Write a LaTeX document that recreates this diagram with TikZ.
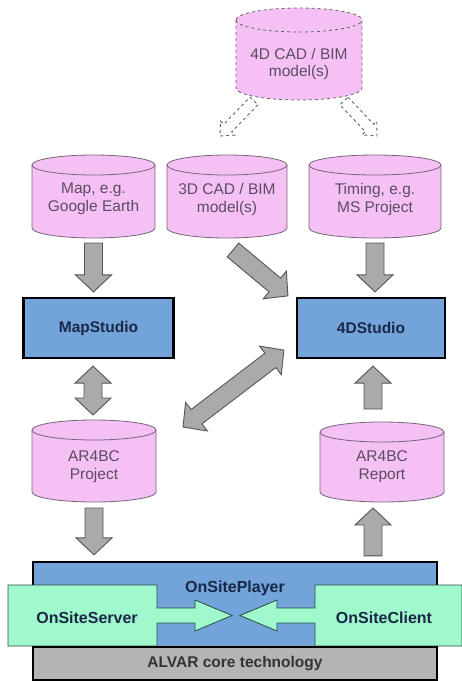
\documentclass[tikz,border=0pt]{standalone}
\usepackage{fontspec}
\setmainfont{Liberation Sans}
\usetikzlibrary{calc}
\definecolor{cylfill}{RGB}{245,193,245}
\definecolor{cylline}{RGB}{120,100,120}
\definecolor{cyltxt}{RGB}{92,76,96}
\definecolor{boxblue}{RGB}{114,163,217}
\definecolor{navy}{RGB}{25,40,70}
\definecolor{greenbox}{RGB}{160,248,205}
\definecolor{greenline}{RGB}{40,75,70}
\definecolor{arrfill}{RGB}{170,170,170}
\definecolor{arrline}{RGB}{85,85,85}
\definecolor{alvargray}{RGB}{180,180,180}
\definecolor{dashgray}{RGB}{100,100,100}

\newcommand\bsw{9pt}
\newcommand\bhw{18pt}
\newcommand\bhl{17pt}
% single block arrow from #2 to #3
\newcommand\blockarrow[3][]{%
\path[garrow,#1] let \p1=(#2), \p2=(#3),
  \n1={atan2(\y2-\y1,\x2-\x1)}, \n2={veclen(\x2-\x1,\y2-\y1)} in
 ($(\p1)+(\n1+90:\bsw)$) -- ($(\p1)+(\n1:\n2-\bhl)+(\n1+90:\bsw)$)
 -- ($(\p1)+(\n1:\n2-\bhl)+(\n1+90:\bhw)$) -- (\p2)
 -- ($(\p1)+(\n1:\n2-\bhl)+(\n1-90:\bhw)$) -- ($(\p1)+(\n1:\n2-\bhl)+(\n1-90:\bsw)$)
 -- ($(\p1)+(\n1-90:\bsw)$) -- cycle;}
% double block arrow between #2 and #3
\newcommand\dblarrow[3][]{%
\path[garrow,#1] let \p1=(#2), \p2=(#3),
  \n1={atan2(\y2-\y1,\x2-\x1)}, \n2={veclen(\x2-\x1,\y2-\y1)} in
 (\p1) -- ($(\p1)+(\n1:\bhl)+(\n1+90:\bhw)$) -- ($(\p1)+(\n1:\bhl)+(\n1+90:\bsw)$)
 -- ($(\p1)+(\n1:\n2-\bhl)+(\n1+90:\bsw)$) -- ($(\p1)+(\n1:\n2-\bhl)+(\n1+90:\bhw)$)
 -- (\p2)
 -- ($(\p1)+(\n1:\n2-\bhl)+(\n1-90:\bhw)$) -- ($(\p1)+(\n1:\n2-\bhl)+(\n1-90:\bsw)$)
 -- ($(\p1)+(\n1:\bhl)+(\n1-90:\bsw)$) -- ($(\p1)+(\n1:\bhl)+(\n1-90:\bhw)$) -- cycle;}
% cylinder: style, name, cx, top, bottom, half width, ry
\newcommand\cyl[7][]{%
 \path[cylbody,#1] ({#3-#6},{#4+#7}) -- ({#3-#6},{#5-#7})
   arc[start angle=180,end angle=360,x radius=#6pt,y radius=#7pt]
   -- ({#3+#6},{#4+#7})
   arc[start angle=0,end angle=180,x radius=#6pt,y radius=#7pt] -- cycle;
 \path[cylbody,#1,fill=none] ({#3-#6},{#4+#7})
   arc[start angle=180,end angle=360,x radius=#6pt,y radius=#7pt];
 \node[inner sep=0pt,outer sep=0pt,minimum width=2*#6,minimum height=#5-#4] (#2) at (#3,{(#4+#5)/2}) {};}

\tikzset{
  garrow/.style={fill=arrfill,draw=arrline,line width=0.9pt,line join=miter},
  darrow/.style={fill=white,draw=dashgray,line width=0.9pt,dashed},
  cylbody/.style={fill=cylfill,draw=cylline,line width=0.8pt},
  cyltext/.style={align=center,text=cyltxt,inner sep=0pt,
    font=\fontsize{15.5}{18}\selectfont},
  box/.style={draw=black,line width=2.2pt,fill=boxblue,minimum width=150,
    minimum height=60,text=navy,font=\fontsize{15.5}{18}\selectfont\bfseries},
  plainbox/.style={draw=black,line width=2.2pt,minimum width=404},
  btext/.style={text=navy,inner sep=0pt,font=\fontsize{16}{18}\selectfont\bfseries},
  greenshape/.style={fill=greenbox,draw=greenline,line width=0.8pt,line join=miter}
}

\begin{document}
\begin{tikzpicture}[x=1pt,y=-1pt]
\useasboundingbox (0,0) rectangle (462,681);
\fill[white] (0,0) rectangle (462,681);

% top dashed cylinder
\cyl[dashed,draw=dashgray]{cadfour}{299}{8}{100}{63}{12}
\node[cyltext,font=\fontsize{15.5}{17}\selectfont] (cadfourt) at (299,63.5) {4D CAD / BIM\\model(s)};

% dashed arrows
\coordinate (dl) at (220,136);
\coordinate (dr) at (377,136);
\begin{scope}
\renewcommand\bsw{5.5pt}\renewcommand\bhw{10pt}\renewcommand\bhl{11pt}
\blockarrow[darrow]{$(cadfour.south)+(-45,1)$}{dl}
\blockarrow[darrow]{$(cadfour.south)+(45,1)$}{dr}
\end{scope}

% row of cylinders
\cyl{map}{93.5}{155}{238}{61.5}{10}
\node[cyltext] (mapt) at (93.5,199) {Map, e.g.\\Google Earth};
\cyl{cad}{227}{155}{238}{60}{10}
\node[cyltext] (cadt) at (227,199) {3D CAD / BIM\\model(s)};
\cyl{tim}{375}{155}{238}{66}{10}
\node[cyltext] (timt) at (375,199) {Timing, e.g.\\MS Project};

% studios
\node[box] (ms) at (98.5,328) {MapStudio};
\node[box,minimum width=148] (fds) at (371,328) {4DStudio};

% lower cylinders
\cyl{proj}{94}{420}{502}{62}{10}
\node[cyltext] (projt) at (94,467) {AR4BC\\Project};
\cyl{rep}{382}{422}{502}{62}{10}
\node[cyltext] (rept) at (382,467) {AR4BC\\Report};

% bottom block
\node[plainbox,fill=boxblue,minimum height=85] (osp) at (235,604.5) {};
\node[btext] (ospt) at (235,588) {OnSitePlayer};
\path[greenshape] (8,585) -- (157,585) -- (157,608) -- (195,608) -- (195,600)
  -- (232,615.5) -- (195,631) -- (195,623) -- (157,623) -- (157,646) -- (8,646) -- cycle;
\path[greenshape] (462,585) -- (315,585) -- (315,608) -- (277,608) -- (277,600)
  -- (240,615.5) -- (277,631) -- (277,623) -- (315,623) -- (315,646) -- (462,646) -- cycle;
\node[btext] (srv) at (87,618) {OnSiteServer};
\node[btext] (cli) at (384,618) {OnSiteClient};
\node[plainbox,line width=2pt,fill=alvargray,minimum height=33,text=black!80,
  font=\fontsize{15.5}{18}\selectfont\bfseries] (alv) at (235,663.5) {ALVAR core technology};

% grey block arrows
\blockarrow{$(map.south)+(0,5)$}{$(map.south |- ms.north)+(0,-5)$}
\blockarrow{$(tim.south)+(0,5)$}{$(tim.south |- fds.north)+(0,-5)$}
\blockarrow{$(cad.south)+(6,12)$}{$(fds.north west)+(-8,-1)$}
\dblarrow{$(proj.north |- ms.south)+(-1,7)$}{$(proj.north)+(-1,-5)$}
\dblarrow{$(proj.east)+(27,-34)$}{$(fds.south west)+(-12,-9)$}
\blockarrow{$(rep.north)+(-9,-13)$}{$(rep.north |- fds.south)+(-9,7)$}
\blockarrow{$(proj.south)+(0,6)$}{$(proj.south |- osp.north)+(0,-6)$}
\blockarrow{$(rep.south |- osp.north)+(-9,-5)$}{$(rep.south)+(-9,6)$}
\end{tikzpicture}
\end{document}
